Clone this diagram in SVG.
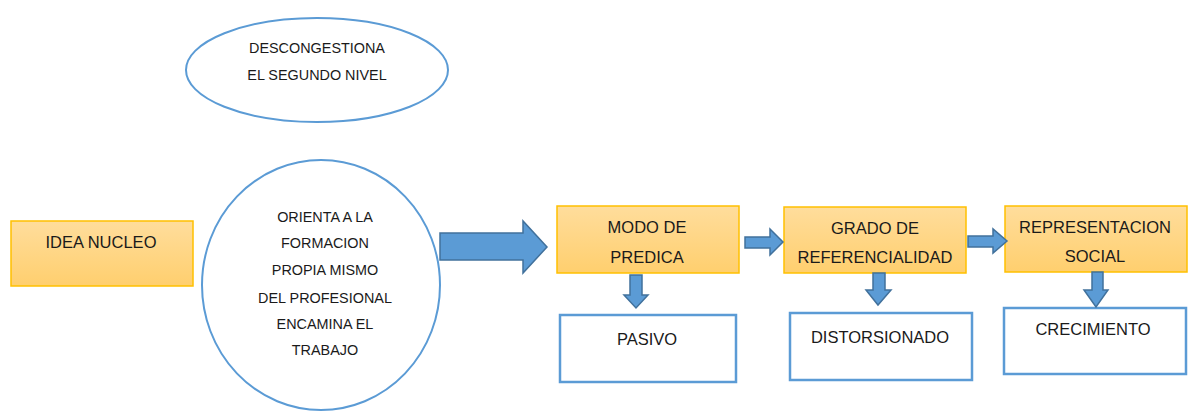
<svg xmlns="http://www.w3.org/2000/svg" width="1188" height="414" viewBox="0 0 1188 414">
  <defs>
    <linearGradient id="og" x1="0" y1="0" x2="0" y2="1">
      <stop offset="0" stop-color="#FFDD9C"/>
      <stop offset="1" stop-color="#FFCF6E"/>
    </linearGradient>
    <style>
      .orange { fill: url(#og); stroke: #FFC000; stroke-width: 1.5; }
      .white { fill: #FFFFFF; stroke: #5B9BD5; stroke-width: 2.5; }
      .oval { fill: #FFFFFF; stroke: #5B9BD5; stroke-width: 2; }
      .arrow { fill: #5B9BD5; stroke: #41719C; stroke-width: 1.5; stroke-linejoin: miter; }
      text { font-family: "Liberation Sans", Arial, sans-serif; fill: #1A1A1A; text-anchor: middle; }
      .big { font-size: 16.5px; }
      .small { font-size: 14.4px; }
    </style>
  </defs>
  <rect width="1188" height="414" fill="#FFFFFF"/>

  <g id="idea-nucleo">
    <rect class="orange" x="11" y="221" width="182" height="65"/>
    <text class="big" x="101" y="248">IDEA NUCLEO</text>
  </g>

  <g id="descongestiona">
    <ellipse class="oval" cx="317" cy="70" rx="131" ry="52"/>
    <text class="small" x="317" y="53">DESCONGESTIONA</text>
    <text class="small" x="317" y="80">EL SEGUNDO NIVEL</text>
  </g>

  <g id="orienta">
    <ellipse class="oval" cx="321" cy="285" rx="119" ry="125"/>
    <text class="small" x="325" y="222">ORIENTA A LA</text>
    <text class="small" x="325" y="248">FORMACION</text>
    <text class="small" x="325" y="275">PROPIA MISMO</text>
    <text class="small" x="325" y="303">DEL PROFESIONAL</text>
    <text class="small" x="325" y="329">ENCAMINA EL</text>
    <text class="small" x="325" y="355">TRABAJO</text>
  </g>

  <g id="modo-de-predica">
    <rect class="orange" x="557" y="206" width="182" height="67"/>
    <text class="big" x="647" y="233">MODO DE</text>
    <text class="big" x="647" y="263">PREDICA</text>
  </g>

  <g id="pasivo">
    <rect class="white" x="560" y="315" width="176" height="67"/>
    <text class="big" x="647" y="345">PASIVO</text>
  </g>

  <g id="grado-de-referencialidad">
    <rect class="orange" x="784" y="207" width="182" height="66"/>
    <text class="big" x="875" y="234">GRADO DE</text>
    <text class="big" x="875" y="263">REFERENCIALIDAD</text>
  </g>

  <g id="distorsionado">
    <rect class="white" x="790" y="313" width="182" height="67"/>
    <text class="big" x="880" y="343">DISTORSIONADO</text>
  </g>

  <g id="representacion-social">
    <rect class="orange" x="1005" y="206" width="182" height="66"/>
    <text class="big" x="1095" y="233">REPRESENTACION</text>
    <text class="big" x="1095" y="262">SOCIAL</text>
  </g>

  <g id="crecimiento">
    <rect class="white" x="1004" y="308" width="182" height="66"/>
    <text class="big" x="1093" y="335">CRECIMIENTO</text>
  </g>

  <g id="connectors">
    <polygon class="arrow" points="440,233 523,233 523,221 547,247 523,273 523,260 440,260"/>
    <polygon class="arrow" points="745,237 770,237 770,229 783,242 770,255 770,248 745,248"/>
    <polygon class="arrow" points="968,236 993,236 993,229 1007,241 993,253 993,247 968,247"/>
    <polygon class="arrow" points="630,275 642,275 642,295 648,295 636,308 624,295 630,295"/>
    <polygon class="arrow" points="873,273 885,273 885,290 891,290 878,305 866,290 873,290"/>
    <polygon class="arrow" points="1092,272 1103,272 1103,290 1108,290 1096,307 1084,290 1092,290"/>
  </g>
</svg>
